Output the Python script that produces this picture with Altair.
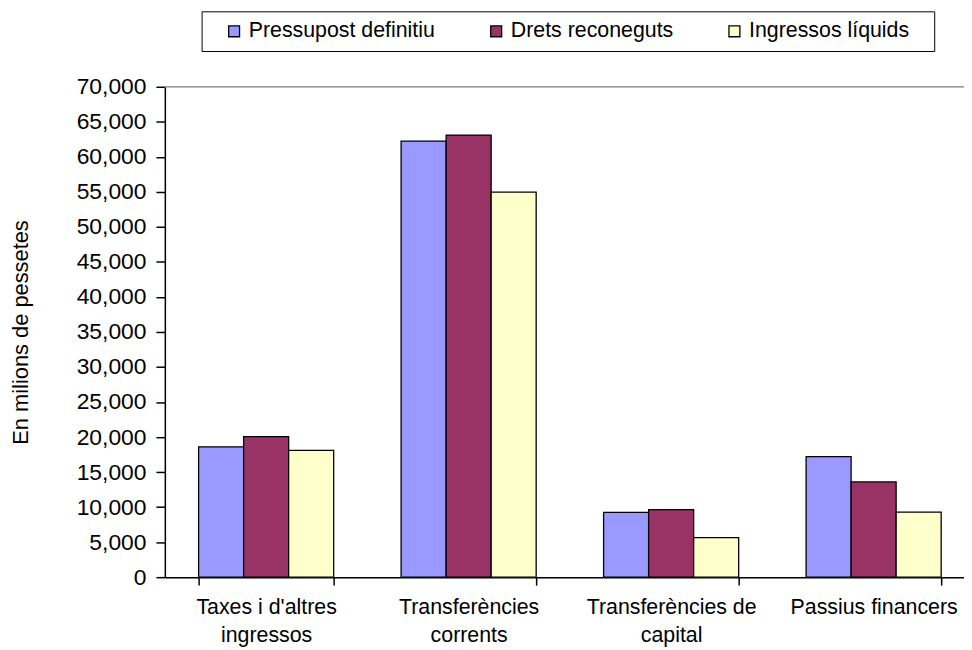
import json
import altair as alt
import pandas as pd

categories = ["Taxes i d'altres ingressos", "Transferències corrents",
              "Transferències de capital", "Passius financers"]
category_lines = [["Taxes i d'altres", "ingressos"], ["Transferències", "corrents"],
                  ["Transferències de", "capital"], ["Passius financers"]]
series = ["Pressupost definitiu", "Drets reconeguts", "Ingressos líquids"]
pressupost = [18600, 62250, 9250, 17200]
drets = [20050, 63100, 9650, 13600]
ingressos = [18100, 54950, 5650, 9300]
colors = ["#9999FF", "#993366", "#FFFFCC"]
y_ticks = list(range(0, 70001, 5000))

rows = []
for s, vals in zip(series, [pressupost, drets, ingressos]):
    for c, v in zip(categories, vals):
        rows.append({"categoria": c, "serie": s, "valor": v})
df = pd.DataFrame(rows)

label_map = "{" + ",".join(json.dumps(c) + ":" + json.dumps(l) for c, l in zip(categories, category_lines)) + "}"
label_expr = label_map + "[datum.label]"

FONT = "Liberation Sans, Arial, sans-serif"

bars = alt.Chart(df).mark_bar(stroke="black", strokeWidth=1.3).encode(
    x=alt.X("categoria:N", sort=categories, title=None,
            scale=alt.Scale(paddingInner=0.333, paddingOuter=0.1667),
            axis=alt.Axis(labelAngle=0, labelExpr=label_expr, labelFontSize=21.5,
                          labelLineHeight=28, labelPadding=12, tickSize=8,
                          tickBand="extent", domainColor="black", tickColor="black",
                          labelColor="black", labelFont=FONT, labelLimit=400,
                          domainWidth=1.5, tickWidth=1.5)),
    xOffset=alt.XOffset("serie:N", sort=series),
    y=alt.Y("valor:Q", title="En milions de pessetes",
            scale=alt.Scale(domain=[0, 70000], nice=False),
            axis=alt.Axis(values=y_ticks, format=",d", grid=False, labelFontSize=23,
                          labelOverlap=False, tickCount=15,
                          labelPadding=10, tickSize=9, domainColor="black",
                          tickColor="black", labelColor="black", labelFont=FONT,
                          titleFont=FONT, titleFontSize=22, titleFontWeight="normal",
                          titleColor="black", titleAngle=-90, titleX=-155, titleY=247,
                          titleAlign="center", titleBaseline="top",
                          domainWidth=1.5, tickWidth=1.5)),
    color=alt.Color("serie:N", sort=series,
                    scale=alt.Scale(domain=series, range=colors),
                    legend=alt.Legend(orient="none", legendX=37, legendY=-76,
                                      direction="horizontal", title="\u00a0",
                                      titleOrient="left", titlePadding=13,
                                      titleFontSize=20, padding=9,
                                      strokeColor="black", fillColor="white",
                                      symbolType="square", symbolSize=121,
                                      symbolStrokeColor="black", symbolStrokeWidth=1.3,
                                      symbolOpacity=1,
                                      labelFontSize=21.5, labelFont=FONT, labelColor="black",
                                      labelOffset=4, columnPadding=50, labelLimit=400,
                                      labelExpr="indexof(datum.label, 'Ingressos') >= 0 ? datum.label + '\u2800' : datum.label")),
)

top_line = alt.Chart(pd.DataFrame({"y": [70000]})).mark_rule(
    color="#9a9a9a", strokeWidth=1.5).encode(y="y:Q")

chart = alt.layer(bars, top_line).properties(
    width=816, height=494,
    autosize=alt.AutoSizeParams(type="none"),
    padding={"left": 158, "top": 77, "right": -11, "bottom": 70},
).configure_view(stroke=None).configure(font=FONT)

chart.save("out.html", embed_options={"renderer": "svg", "actions": False})
